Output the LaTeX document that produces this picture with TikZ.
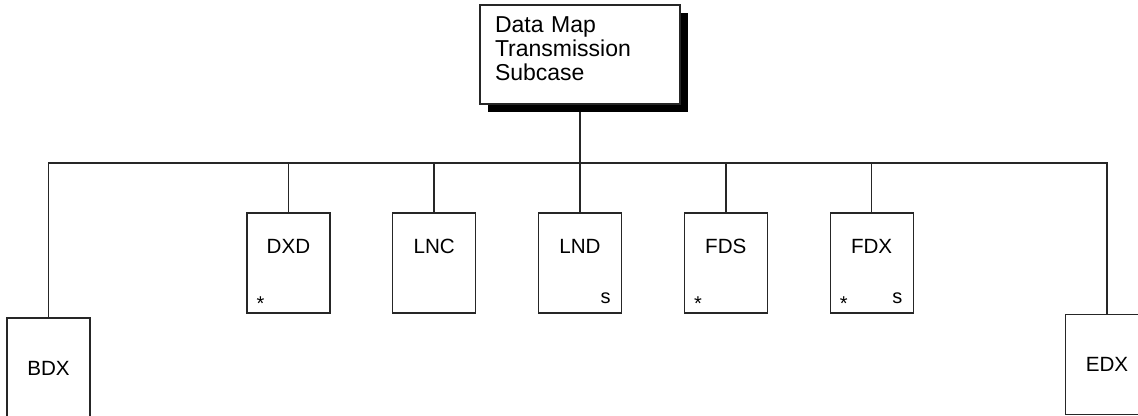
\documentclass[tikz,border=0pt]{standalone}
\usepackage{fontspec}
\setmainfont{Liberation Sans}
\usetikzlibrary{positioning, shadows, backgrounds}

\tikzset{
  unit/.style={draw=black!85, line width=0.6pt, minimum width=41.5pt,
    inner xsep=0pt, inner ysep=0pt, text height=20.2pt, text depth=29.8pt,
    font=\fontsize{10.3}{12}\selectfont},
  endunit/.style={unit, text height=28.7pt, text depth=21.3pt},
  title/.style={draw=black!85, fill=white, line width=0.6pt,
    minimum width=100pt, minimum height=49.5pt, text width=85pt, align=left,
    inner xsep=7.5pt, inner ysep=0pt, text height=13.85pt, text depth=35.5pt,
    font=\fontsize{11.5}{12}\selectfont,
    drop shadow={shadow xshift=4pt, shadow yshift=-4.25pt, fill=black, opacity=1}},
  flag/.style={inner sep=0pt, font=\fontsize{10}{12}\selectfont},
  wire/.style={draw=black!85, line width=0.75pt}
}

\begin{document}
\begin{tikzpicture}
	[x=0.5pt, y=-0.5pt, on grid, node distance=72.9pt]
   \clip (0,0) rectangle (1138,416);

   \node[title] (subcase) at (580,54.5) {Data Map\\Transmission\\Subcase};

   \node[unit] (lnd) at (580,263) {LND};
   \node[unit] (lnc) [left=of lnd] {LNC};
   \node[unit] (dxd) [left=of lnc] {DXD};
   \node[unit] (fds) [right=of lnd] {FDS};
   \node[unit] (fdx) [right=of fds] {FDX};
   \node[endunit] (bdx) at (48.5,368) {BDX};
   \node[endunit] (edx) at (1107,364.5) {EDX};

   \node[flag, anchor=base west] (dxd_star) at ([shift={(10,-3)}]dxd.south west) {*};
   \node[flag, anchor=base west] (fds_star) at ([shift={(10,-3)}]fds.south west) {*};
   \node[flag, anchor=base west] (fdx_star) at ([shift={(10,-3)}]fdx.south west) {*};
   \node[flag, anchor=base east] (lnd_s) at ([shift={(-11,-10)}]lnd.south east) {s};
   \node[flag, anchor=base east] (fdx_s) at ([shift={(-11,-10)}]fdx.south east) {s};

   \coordinate (bus) at (580,163);

   \begin{scope}[on background layer]
    \draw[wire] (bdx.north) |- (bus) -| (edx.north);
    \draw[wire] (subcase.south) -- (lnd.north);
    \foreach \n in {dxd, lnc, fds, fdx}
      \draw[wire] (\n.north) -- (\n.north |- bus);
   \end{scope}
\end{tikzpicture}
\end{document}
